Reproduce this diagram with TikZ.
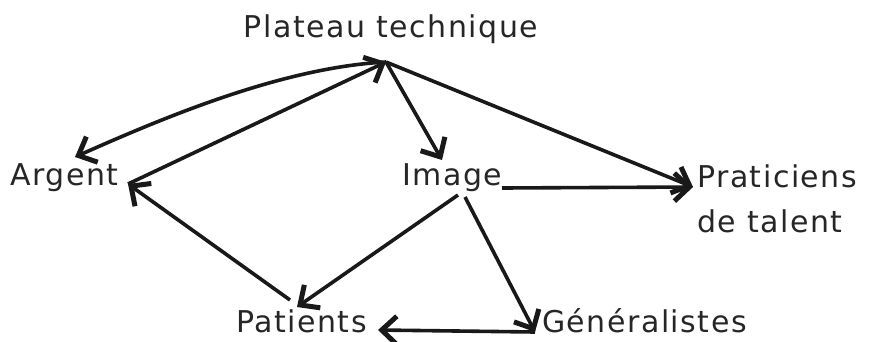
\documentclass[tikz,border=0pt]{standalone}
\usepackage{fontspec}
\setmainfont{DejaVu Sans}[LetterSpace=5.0]
\usepackage{tikz}
\usetikzlibrary{arrows.meta}

\begin{document}
\begin{tikzpicture}[x=1pt, y=-1pt,
	lbl/.style={inner sep=0pt, font=\fontsize{30}{45}\selectfont, text=black!85},
	conn/.style={line width=3.6pt, draw=black!90, ->},
	>={Straight Barb[length=15pt,width=28pt,line width=5pt]}]
	\useasboundingbox (0,0) rectangle (872,341);

	\node [lbl, anchor=base] (plateau) at (391,37) {Plateau technique};
	\node [lbl, anchor=base west] (argent) at (10,185) {Argent};
	\node [lbl, anchor=base west] (image) at (402,185) {Image};
	\node [lbl, anchor=base west] (praticiens) at (697,187) {\begin{tabular}[t]{@{}l@{}}Praticiens\\de talent\end{tabular}};
	\node [lbl, anchor=base west] (patients) at (236,332) {Patients};
	\node [lbl, anchor=base west] (generalistes) at (542,332) {Généralistes};

	% attach points
	\coordinate (hub) at ([xshift=-5pt,yshift=-25pt]plateau.base);
	\coordinate (argent-n) at ([xshift=65pt,yshift=28pt]argent.base west);
	\coordinate (argent-e) at ([xshift=118pt,yshift=1pt]argent.base west);
	\coordinate (image-n) at ([xshift=40pt,yshift=25pt]image.base west);
	\coordinate (image-e) at ([xshift=100pt,yshift=-3pt]image.base west);
	\coordinate (image-s1) at ([xshift=56pt,yshift=-10pt]image.base west);
	\coordinate (image-s2) at ([xshift=63pt,yshift=-12pt]image.base west);
	\coordinate (praticiens-w) at ([xshift=-4pt]praticiens.base west);
	\coordinate (patients-n) at ([xshift=61pt,yshift=25pt]patients.base west);
	\coordinate (patients-nw) at ([xshift=54pt,yshift=32pt]patients.base west);
	\coordinate (patients-e) at ([xshift=142pt,yshift=2pt]patients.base west);
	\coordinate (generalistes-w) at ([xshift=-7pt]generalistes.base west);

	\draw [conn] (hub) to[out=183, in=24, looseness=0.8] (argent-n);
	\draw [conn] (argent-e) -- (hub);
	\draw [conn] (hub) -- (image-n);
	\draw [conn] (hub) -- (praticiens-w);
	\draw [conn] (image-e) -- (praticiens-w);
	\draw [conn] (image-s1) -- (patients-n);
	\draw [conn] (image-s2) -- (generalistes-w);
	\draw [conn] (patients-nw) -- (argent-e);
	\draw [conn] (generalistes-w) -- (patients-e);

\end{tikzpicture}
\end{document}
